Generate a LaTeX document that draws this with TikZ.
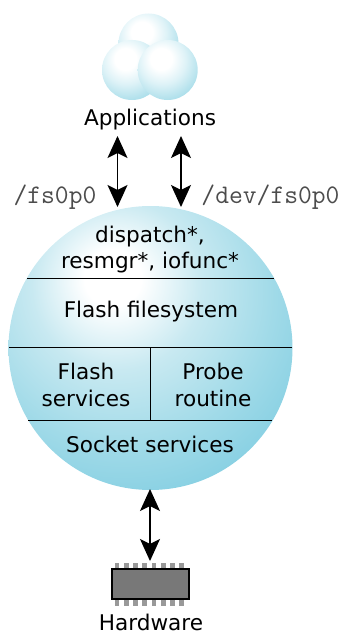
\documentclass[tikz,border=0pt]{standalone}
\usepackage{fontspec}
\setmainfont{DejaVu Sans}
\usetikzlibrary{arrows.meta}
\definecolor{bubA}{HTML}{C8E9F1}
\definecolor{bubB}{HTML}{A0DAE8}
\definecolor{bubC}{HTML}{80CDE1}
\definecolor{smlA}{HTML}{DDF2F7}
\definecolor{smlB}{HTML}{B2E1EC}
\definecolor{smlC}{HTML}{8CD2E3}
\pgfdeclareradialshading{bubble}{\pgfpoint{-7bp}{13bp}}{
  color(0bp)=(white); color(5bp)=(white); color(15bp)=(bubA); color(27bp)=(bubB); color(38bp)=(bubC); color(100bp)=(bubC)}
\pgfdeclareradialshading{smallbubble}{\pgfpoint{-6bp}{10bp}}{
  color(0bp)=(white); color(9bp)=(white); color(20bp)=(smlA); color(31bp)=(smlB); color(42bp)=(smlC); color(100bp)=(smlC)}
\tikzset{
  x=1pt,y=-1pt,
  ball/.style={circle,minimum size=#1,inner sep=0pt,shading=bubble},
  smallball/.style={circle,minimum size=60pt,inner sep=0pt,shading=smallbubble},
  lab/.style={inner sep=0pt,align=center,font=\fontsize{21.6}{26.4}\selectfont},
  mono/.style={inner sep=0pt,text=black!70,font=\fontsize{26.8}{28}\ttfamily},
  rule/.style={line width=1pt,black},
  link/.style={line width=1.3pt,{Stealth[length=22pt,width=20pt,inset=5pt]}-{Stealth[length=22pt,width=20pt,inset=5pt]}},
  pin/.style={fill=black!40,draw=none}
}
\begin{document}
\begin{tikzpicture}
\useasboundingbox (0,0) rectangle (345,634);
% Applications cloud
\node[smallball] (b1) at (148.5,43.5) {};
\node[smallball] (b2) at (132,70) {};
\node[smallball] (b3) at (167.7,70) {};
\node[lab] (apps) at (150,120) {Applications};
% Main circle
\node[ball=284pt] (main) at (150.5,348) {};
\coordinate (c1) at (27,278); \coordinate (c2) at (274,278);
\coordinate (d1) at (9,347.5); \coordinate (d2) at (292,347.5);
\coordinate (e1) at (28,420); \coordinate (e2) at (272,420);
\coordinate (v1) at (150,347.5); \coordinate (v2) at (150,420);
\draw[rule] (c1) -- (c2);
\draw[rule] (d1) -- (d2);
\draw[rule] (e1) -- (e2);
\draw[rule] (v1) -- (v2);
\node[lab] (t1) at (150,249.5) {dispatch*,\\resmgr*, iofunc*};
\node[lab] (t2) at (151,312) {Flash filesystem};
\node[lab] (t3) at (86,385) {Flash\\services};
\node[lab] (t4) at (213,385) {Probe\\routine};
\node[lab] (t5) at (150,444.5) {Socket services};
\node[mono] (fs) at (55,197) {/fs0p0};
\node[mono] (dev) at (270.5,197) {/dev/fs0p0};
% Hardware chip
\foreach \i in {0,...,7} {
  \fill[pin] (117+\i*9.25-2.4,563) rectangle (117+\i*9.25+2.4,606);
}
\node[draw=black,line width=2pt,fill=black!53,minimum width=77pt,minimum height=30pt,inner sep=0pt] (chip) at (150,584) {};
\node[lab] (hw) at (151,622.5) {Hardware};
% Connectors
\coordinate (a1) at (117.5,136); \coordinate (a2) at (117.5,207);
\coordinate (a3) at (181,136); \coordinate (a4) at (181,207);
\coordinate (a5) at (150,489); \coordinate (a6) at (150,561);
\draw[link] (a1) -- (a2);
\draw[link] (a3) -- (a4);
\draw[link] (a5) -- (a6);
\end{tikzpicture}
\end{document}
